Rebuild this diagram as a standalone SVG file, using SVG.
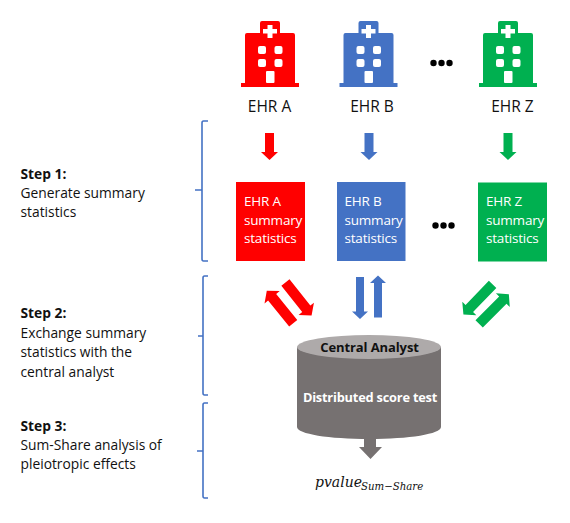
<svg xmlns="http://www.w3.org/2000/svg" width="570" height="523" viewBox="0 0 570 523">
<style>
text{font-family:"Open Sans","Noto Sans","Liberation Sans",sans-serif;font-size:13.800px;fill:#111}
.b{font-weight:700}
.w{fill:#fff}
text.w{fill:#fff}
.br{fill:none;stroke:#4472c4;stroke-width:1.600}
.r{fill:#ff0000}.bl{fill:#4472c4}.g{fill:#00b050}
text.t{font-size:15.500px}
text.s{font-size:13.500px;letter-spacing:-.2px}
text.c{font-size:13px;letter-spacing:-.1px}
text.d{font-size:12.800px;letter-spacing:-.2px}
text.m{font-family:"DejaVu Serif","Liberation Serif",serif;font-style:italic}
</style>
<defs>
<g id="hosp">
<path d="M-10-9V-19Q-10-21-8-21H8Q10-21 10-19V-9H23Q25-9 25-7V41H29V45H-29V41H-25V-7Q-25-9-23-9Z"/>
<path class="w" d="M-2.500-17H2.500V-13H7V-8.500H2.500V-4H-2.500V-8.500H-7V-13H-2.500Z"/>
<rect class="w" x="-12" y="4" width="8" height="8" rx="2"/><rect class="w" x="4.500" y="4" width="8" height="8" rx="2"/>
<rect class="w" x="-12" y="17" width="8" height="8" rx="2"/><rect class="w" x="4.500" y="17" width="8" height="8" rx="2"/>
<rect class="w" x="-4" y="29" width="8.500" height="12" rx="1"/>
</g>
<path id="arr" d="M-4.500-13.500H4.500V5.500H8.500L0 13.500L-8.500 5.500H-4.500Z"/>
<path id="dbl" d="M-4-21H4V13.500H8L0 21L-8 13.500H-4Z"/>
<path id="diag" d="M-5.200-21H5.200V12.500H9.800L0 21L-9.800 12.500H-5.200Z"/>
<g id="dots"><circle cx="-8" cy="0" r="3.200" fill="#000"/><circle cx="0" cy="0" r="3.200" fill="#000"/><circle cx="8" cy="0" r="3.200" fill="#000"/></g>
</defs>

<g id="connectors">
<use href="#arr" class="r" x="269.500" y="146.500"/>
<use href="#arr" class="bl" x="369" y="146.500"/>
<use href="#arr" class="g" x="508" y="146.500"/>
<use href="#diag" class="r" transform="translate(280 307) rotate(141)"/>
<use href="#diag" class="r" transform="translate(298.500 299) rotate(-38.500)"/>
<use href="#dbl" class="bl" x="360" y="298"/>
<use href="#dbl" class="bl" transform="translate(378 296.500) rotate(180)"/>
<use href="#diag" class="g" transform="translate(478 299.500) rotate(44)"/>
<use href="#diag" class="g" transform="translate(494 309) rotate(-135)"/>
<path d="M364 437H376V447H382L370.500 459L359 447H364Z" fill="#767171"/>
</g>

<g id="hospital-a" class="r"><use href="#hosp" x="270" y="42"/><text class="t" x="269.500" y="112" text-anchor="middle">EHR A</text></g>
<g id="hospital-b" class="bl"><use href="#hosp" x="368.500" y="42"/><text class="t" x="372" y="112" text-anchor="middle">EHR B</text></g>
<g id="hospital-z" class="g"><use href="#hosp" x="508" y="42"/><text class="t" x="512.500" y="112" text-anchor="middle">EHR Z</text></g>
<use id="dots-top" href="#dots" x="441.500" y="63"/>

<g id="summary-a"><rect x="236" y="182" width="69" height="79" class="r"/><text class="w s" x="244" y="206">EHR A</text><text class="w s" x="244" y="225">summary</text><text class="w s" x="244" y="243">statistics</text></g>
<g id="summary-b"><rect x="337" y="182" width="68.500" height="79" class="bl"/><text class="w s" x="344.500" y="206">EHR B</text><text class="w s" x="344.500" y="225">summary</text><text class="w s" x="344.500" y="243">statistics</text></g>
<g id="summary-z"><rect x="478" y="182.500" width="69" height="79" class="g"/><text class="w s" x="486" y="206">EHR Z</text><text class="w s" x="486" y="225">summary</text><text class="w s" x="486" y="243">statistics</text></g>
<use id="dots-mid" href="#dots" x="443.500" y="225.500"/>

<g id="central-analyst">
<path d="M297 347V427C297 434 329 439 369 439S441 434 441 427V347Z" fill="#767171"/>
<ellipse cx="369" cy="347" rx="72" ry="12" fill="#aeaaaa"/>
<text class="b c" x="369.500" y="352" text-anchor="middle">Central Analyst</text>
<text class="b w d" x="370" y="402" text-anchor="middle">Distributed score test</text>
</g>

<g id="result"><text class="m" x="315" y="487" style="font-size:14px">pvalue</text><text class="m" x="361" y="490" style="font-size:10.200px">Sum−Share</text></g>

<g id="step-1">
<path class="br" d="M208 121H203.500Q202 121 202 123V190H195M202 190V259Q202 261 203.500 261H208"/>
<text class="b" x="20.500" y="179">Step 1:</text><text x="20.500" y="198">Generate summary</text><text x="20.500" y="217">statistics</text>
</g>
<g id="step-2">
<path class="br" d="M208 276H204.500Q203 276 203 278V336H198M203 336V393Q203 395 204.500 395H208"/>
<text class="b" x="20.500" y="318">Step 2:</text><text x="20.500" y="338">Exchange summary</text><text x="20.500" y="357">statistics with the</text><text x="20.500" y="377">central analyst</text>
</g>
<g id="step-3">
<path class="br" d="M208 403H204.500Q203 403 203 405V451H197M203 451V496Q203 498 204.500 498H208"/>
<text class="b" x="20.500" y="431">Step 3:</text><text x="20.500" y="450">Sum-Share analysis of</text><text x="20.500" y="469">pleiotropic effects</text>
</g>
</svg>
